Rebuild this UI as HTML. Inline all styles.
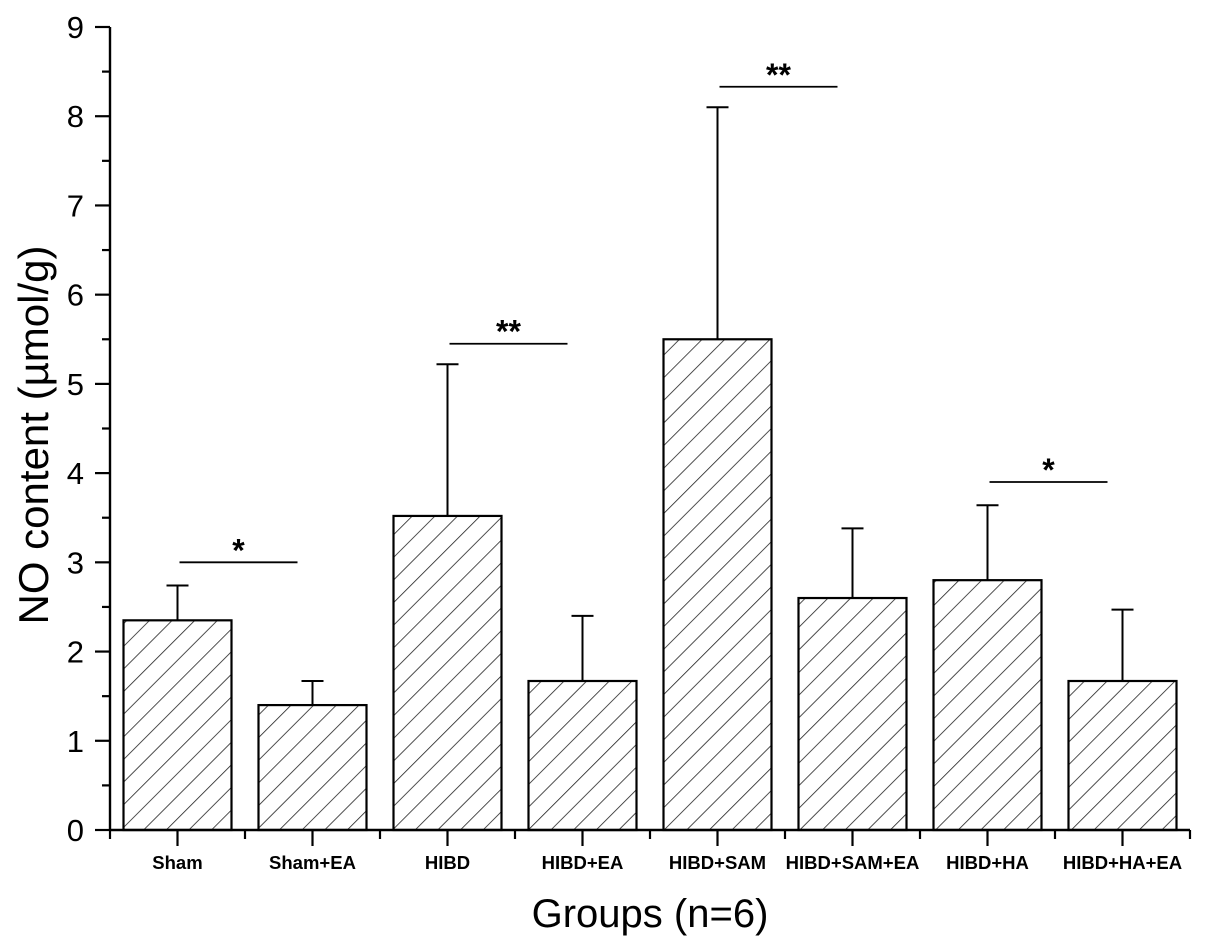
<!DOCTYPE html>
<html><head><meta charset="utf-8"><style>
html,body{margin:0;padding:0;background:#fff;}
svg{display:block;font-family:"Liberation Sans",Arial,sans-serif;}
</style></head><body>
<svg id="chart" width="1205" height="950" viewBox="0 0 1205 950">
<defs>
<pattern id="hatch" patternUnits="userSpaceOnUse" width="16" height="16" patternTransform="rotate(45)">
<rect width="16" height="16" fill="#fff"/>
<line x1="0" y1="0" x2="0" y2="16" stroke="#222" stroke-width="1.6"/>
</pattern>
</defs>
<g id="plot"></g>
</svg>
<script>
const categories = ["Sham","Sham+EA","HIBD","HIBD+EA","HIBD+SAM","HIBD+SAM+EA","HIBD+HA","HIBD+HA+EA"];
const values = [2.35, 1.40, 3.52, 1.67, 5.50, 2.60, 2.80, 1.67];
const errors = [0.39, 0.27, 1.70, 0.73, 2.60, 0.78, 0.84, 0.80];
const yTicks = [0,1,2,3,4,5,6,7,8,9];
const sigPairs = [[0,1],[2,3],[4,5],[6,7]];
const sigLevels = [3.0, 5.45, 8.33, 3.9];
const sigLabels = ["*","**","**","*"];

const NS = "http://www.w3.org/2000/svg";
const g = document.getElementById("plot");
const X0 = 110, X1 = 1190, Y0 = 830, Y9 = 27;
const y = v => Y0 - (v / 9) * (Y0 - Y9);
const step = (X1 - X0) / categories.length;
const xc = i => X0 + step * (i + 0.5);
const bw = step * 0.8;
function mk(tag, attrs, parent) {
  const e = document.createElementNS(NS, tag);
  for (const k in attrs) e.setAttribute(k, attrs[k]);
  (parent || g).appendChild(e);
  return e;
}
categories.forEach((c, i) => {
  const yt = y(values[i] + errors[i]);
  const eb = mk("line", {x1: xc(i), x2: xc(i), y1: y(values[i]), y2: yt, stroke: "#000", "stroke-width": 2});
  
  
  const cap = mk("line", {x1: xc(i) - 11, x2: xc(i) + 11, y1: yt, y2: yt, stroke: "#000", "stroke-width": 2});
  
  
  const r = mk("rect", {x: xc(i) - bw / 2, y: y(values[i]), width: bw, height: Y0 - y(values[i]), fill: "url(#hatch)", stroke: "#000", "stroke-width": 2.2});
  
  
  const t = mk("text", {x: xc(i), y: 869, "text-anchor": "middle", "font-size": 18.5, "font-weight": "bold"});
  t.textContent = c;
  
  
  mk("line", {x1: xc(i), x2: xc(i), y1: Y0, y2: Y0 + 16, stroke: "#000", "stroke-width": 2.2});
  mk("line", {x1: X0 + step * (i + 1), x2: X0 + step * (i + 1), y1: Y0, y2: Y0 + 9, stroke: "#000", "stroke-width": 2.2});
});
mk("line", {x1: X0, x2: X0, y1: Y0, y2: Y0 + 9, stroke: "#000", "stroke-width": 2.2});
const xa = mk("line", {x1: X0, x2: X1, y1: Y0, y2: Y0, stroke: "#000", "stroke-width": 2.4});


const ya = mk("line", {x1: X0, x2: X0, y1: Y0 + 1, y2: Y9, stroke: "#000", "stroke-width": 2.4});


yTicks.forEach(v => {
  mk("line", {x1: X0 - 15, x2: X0, y1: y(v), y2: y(v), stroke: "#000", "stroke-width": 2.2});
  if (v < 9) mk("line", {x1: X0 - 8, x2: X0, y1: y(v + 0.5), y2: y(v + 0.5), stroke: "#000", "stroke-width": 2.2});
  const t = mk("text", {x: 84, y: y(v) + 11, "text-anchor": "end", "font-size": 31});
  t.textContent = v;
  
  
});
sigPairs.forEach((p, k) => {
  const yy = y(sigLevels[k]);
  const x1 = xc(p[0]) + 2, x2 = xc(p[1]) - 15;
  const l = mk("line", {x1: x1, x2: x2, y1: yy, y2: yy, stroke: "#000", "stroke-width": 1.8});
  
  
  const t = mk("text", {x: (x1 + x2) / 2, y: yy - 1, "text-anchor": "middle", "font-size": 32, "font-weight": "bold"});
  t.textContent = sigLabels[k];
  
  
});
const xt = mk("text", {x: 650, y: 927, "text-anchor": "middle", "font-size": 40});
xt.textContent = "Groups (n=6)";


const yt = mk("text", {x: 0, y: 0, "text-anchor": "middle", "font-size": 42, transform: "translate(48,435) rotate(-90)"});
yt.textContent = "NO content (µmol/g)";


</script>
</body></html>
